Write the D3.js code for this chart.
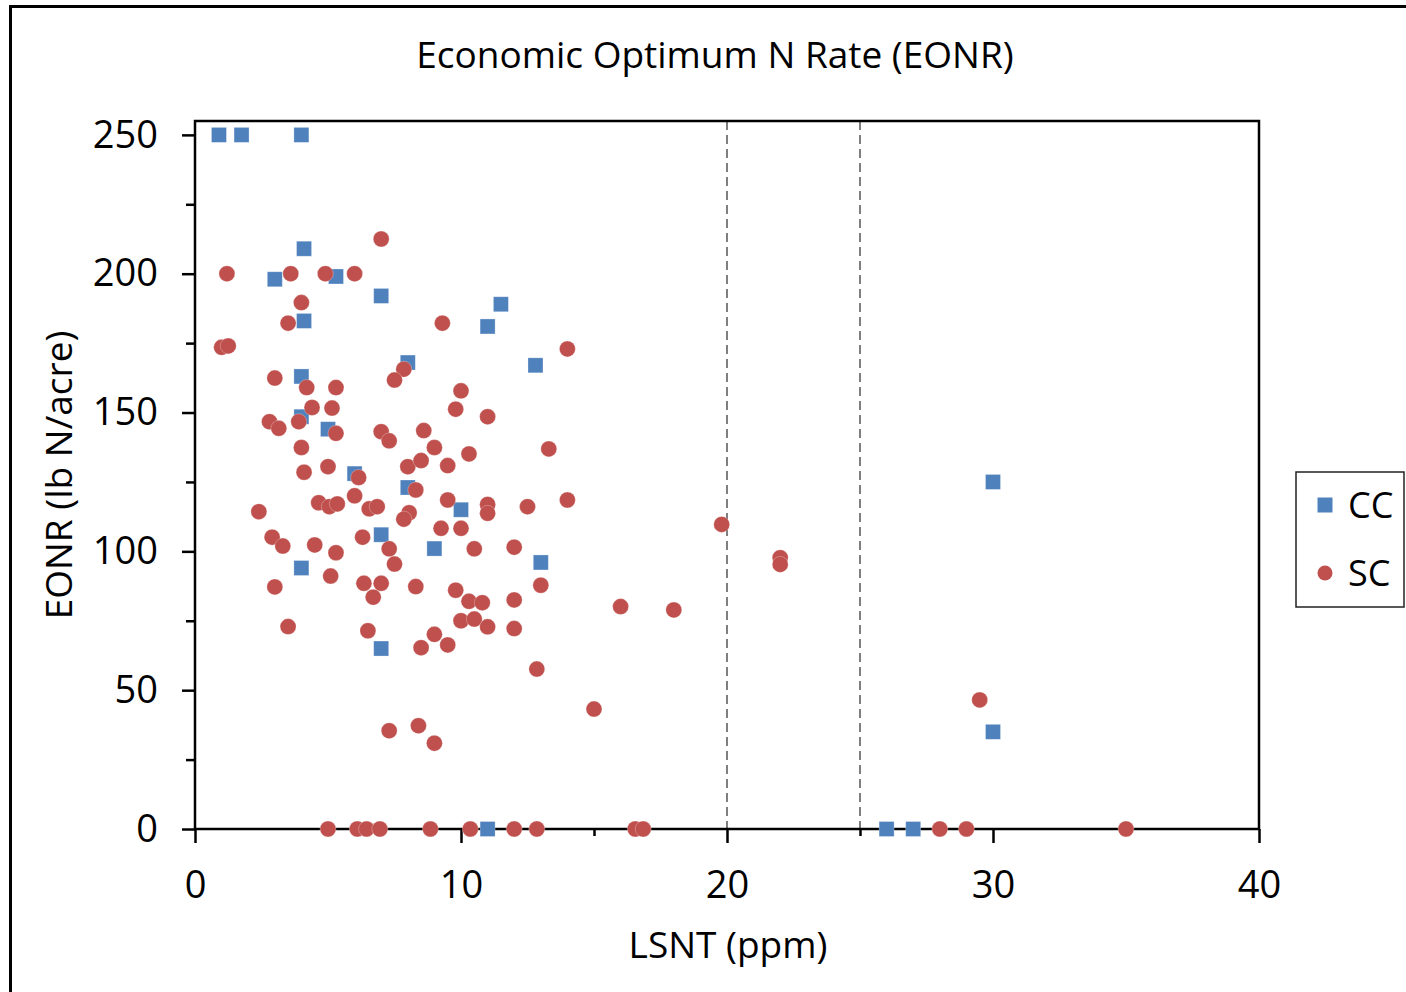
<!DOCTYPE html>
<html>
<head>
<meta charset="utf-8">
<script src="https://cdn.jsdelivr.net/npm/d3@7/dist/d3.min.js"></script>
<style>
  html, body { margin: 0; padding: 0; background: #fff; }
  svg { display: block; }
  text { font-family: "Open Sans", "Noto Sans", sans-serif; fill: #000; }
</style>
</head>
<body>
<svg id="chart" width="1406" height="992"></svg>
<script>
// Axis ticks
const xTicks = [0, 10, 20, 30, 40];
const xMinorTicks = [5, 15, 25, 35];
const yTicks = [0, 50, 100, 150, 200, 250];
const yMinorTicks = [25, 75, 125, 175, 225];

// Reference LSNT thresholds (ppm)
const thresholds = [20, 25];

// Series names
const seriesNames = ["CC", "SC"];

// CC: LSNT (ppm) and EONR (lb N/acre)
const ccX = [0.9, 1.75, 4.0, 4.1, 3.0, 5.3, 7.0, 4.1, 11.5, 11.0, 8.0, 12.8, 4.0, 4.0,
             5.0, 6.0, 8.0, 10.0, 7.0, 9.0, 13.0, 4.0, 7.0, 11.0, 30.0, 30.0, 26.0, 27.0];
const ccY = [250, 250, 250, 209, 198, 199, 192, 183, 189, 181, 168, 167, 163, 148.5,
             144, 128, 123, 115, 106, 101, 96, 94, 65, 0, 125, 35, 0, 0];

// SC: LSNT (ppm) and EONR (lb N/acre)
const scX = [1.2, 3.6, 4.9, 6.0, 7.0, 4.0, 3.5, 9.3, 1.0, 1.25,
             7.85, 7.5, 10.0, 3.0, 4.2, 5.3, 4.4, 5.15, 9.8, 11.0,
             2.8, 3.15, 3.9, 5.3, 7.0, 7.3, 8.6, 4.0, 9.0, 10.3,
             13.3, 14.0, 5.0, 4.1, 8.0, 8.5, 9.5, 6.15, 8.3, 6.0,
             9.5, 4.65, 5.05, 5.35, 6.55, 6.85, 8.05, 7.85, 11.0, 11.0,
             12.5, 14.0, 2.4, 2.9, 3.3, 4.5, 5.3, 6.3, 7.3, 7.5,
             9.25, 10.0, 10.5, 12.0, 19.8, 22.0, 22.0, 3.0, 5.1, 6.35,
             7.0, 8.3, 9.8, 13.0, 6.7, 10.3, 10.8, 12.0, 16.0, 18.0,
             3.5, 6.5, 10.0, 10.5, 11.0, 12.0, 8.5, 9.0, 9.5, 12.85,
             15.0, 7.3, 8.4, 9.0, 29.5,
             5.0, 6.1, 6.45, 6.95, 8.85, 10.35, 12.0, 12.85, 16.55, 16.85, 28.0, 29.0, 35.0];
const scY = [200, 200, 200, 200, 212.5, 189.6, 182.2, 182.2, 173.5, 174,
             165.6, 161.7, 157.8, 162.4, 159, 159, 151.8, 151.6, 151.2, 148.5,
             146.7, 144.3, 146.7, 142.5, 143.1, 139.8, 143.5, 137.4, 137.4, 135.1,
             136.9, 172.9, 130.5, 128.5, 130.5, 132.7, 130.9, 126.6, 122.1, 120,
             118.5, 117.5, 116.1, 117.1, 115.3, 116.1, 113.9, 111.6, 116.9, 113.7,
             116.1, 118.5, 114.3, 105.1, 101.9, 102.3, 99.5, 105.1, 100.9, 95.4,
             108.3, 108.3, 100.9, 101.5, 109.7, 97.7, 95.3, 87.2, 91.1, 88.5,
             88.5, 87.3, 86.0, 87.8, 83.5, 82.0, 81.5, 82.5, 80.1, 78.9,
             72.9, 71.4, 75.0, 75.6, 72.8, 72.2, 65.3, 70.1, 66.3, 57.6,
             43.2, 35.4, 37.2, 30.9, 46.5,
             0, 0, 0, 0, 0, 0, 0, 0, 0, 0, 0, 0, 0];

const colors = { CC: "#4F81BD", SC: "#C0504D" };

const svg = d3.select("#chart");

// Outer chart border
svg.append("rect")
  .attr("x", 10.5).attr("y", 6.5)
  .attr("width", 1420).attr("height", 1000)
  .attr("fill", "none").attr("stroke", "#000").attr("stroke-width", 3);

const plot = { left: 195, right: 1259, top: 121, bottom: 829 };

const x = d3.scaleLinear().domain([0, 40]).range([plot.left, plot.right]);
const y = d3.scaleLinear().domain([0, 255]).range([plot.bottom, plot.top]);

// Title
svg.append("text")
  .attr("x", 715).attr("y", 68)
  .attr("text-anchor", "middle")
  .attr("font-size", 37)
  .text("Economic Optimum N Rate (EONR)");

// Threshold dashed lines
svg.append("g").selectAll("line")
  .data(thresholds)
  .join("line")
  .attr("x1", d => x(d)).attr("x2", d => x(d))
  .attr("y1", plot.top).attr("y2", plot.bottom)
  .attr("stroke", "#7f7f7f").attr("stroke-width", 2)
  .attr("stroke-dasharray", "9,5");

// Plot frame
svg.append("rect")
  .attr("x", plot.left).attr("y", plot.top)
  .attr("width", plot.right - plot.left).attr("height", plot.bottom - plot.top)
  .attr("fill", "none").attr("stroke", "#000").attr("stroke-width", 2.5);

// Y axis: major ticks with labels, minor ticks without
const yAxis = svg.append("g")
  .attr("transform", `translate(${plot.left},0)`)
  .call(d3.axisLeft(y).tickValues(yTicks).tickSize(13).tickPadding(24).tickFormat(d3.format("d")));
yAxis.select(".domain").remove();
yAxis.selectAll(".tick line").attr("stroke", "#000").attr("stroke-width", 2.5);
yAxis.selectAll(".tick text")
  .attr("font-size", 38)
  .attr("font-family", "'Open Sans', 'Noto Sans', sans-serif")
  .attr("fill", "#000");

const yMinor = svg.append("g")
  .attr("transform", `translate(${plot.left},0)`)
  .call(d3.axisLeft(y).tickValues(yMinorTicks).tickSize(9).tickFormat(""));
yMinor.select(".domain").remove();
yMinor.selectAll(".tick line").attr("stroke", "#000").attr("stroke-width", 2.5);

// X axis: major ticks with labels, minor ticks without
const xAxis = svg.append("g")
  .attr("transform", `translate(0,${plot.bottom})`)
  .call(d3.axisBottom(x).tickValues(xTicks).tickSize(14).tickPadding(28).tickFormat(d3.format("d")));
xAxis.select(".domain").remove();
xAxis.selectAll(".tick line").attr("stroke", "#000").attr("stroke-width", 2.5);
xAxis.selectAll(".tick text")
  .attr("font-size", 38)
  .attr("font-family", "'Open Sans', 'Noto Sans', sans-serif")
  .attr("fill", "#000");

const xMinor = svg.append("g")
  .attr("transform", `translate(0,${plot.bottom})`)
  .call(d3.axisBottom(x).tickValues(xMinorTicks).tickSize(7).tickFormat(""));
xMinor.select(".domain").remove();
xMinor.selectAll(".tick line").attr("stroke", "#000").attr("stroke-width", 2.5);

// Axis titles
svg.append("text")
  .attr("x", 728).attr("y", 958)
  .attr("text-anchor", "middle")
  .attr("font-size", 37)
  .text("LSNT (ppm)");

svg.append("text")
  .attr("transform", "translate(72,475) rotate(-90)")
  .attr("text-anchor", "middle")
  .attr("font-size", 37)
  .text("EONR (lb N/acre)");

// Markers
const ccData = ccX.map((v, i) => ({ x: v, y: ccY[i] }));
const scData = scX.map((v, i) => ({ x: v, y: scY[i] }));
const half = 7.5;

svg.append("g").selectAll("rect")
  .data(ccData)
  .join("rect")
  .attr("x", d => x(d.x) - half).attr("y", d => y(d.y) - half)
  .attr("width", half * 2).attr("height", half * 2)
  .attr("fill", colors.CC)
  .attr("stroke", "#ffffff").attr("stroke-opacity", 0.35).attr("stroke-width", 0.8);

svg.append("g").selectAll("circle")
  .data(scData)
  .join("circle")
  .attr("cx", d => x(d.x)).attr("cy", d => y(d.y))
  .attr("r", 8)
  .attr("fill", colors.SC)
  .attr("stroke", "#ffffff").attr("stroke-opacity", 0.35).attr("stroke-width", 0.8);

// Legend
const legend = svg.append("g");
legend.append("rect")
  .attr("x", 1296).attr("y", 472)
  .attr("width", 108).attr("height", 135)
  .attr("fill", "#fff").attr("stroke", "#222").attr("stroke-width", 1.5);

const legendRows = legend.selectAll("g.row")
  .data(seriesNames)
  .join("g")
  .attr("class", "row")
  .attr("transform", (d, i) => `translate(1325,${505 + i * 68})`);

legendRows.filter(d => d === "CC").append("rect")
  .attr("x", -7.5).attr("y", -7.5).attr("width", 15).attr("height", 15)
  .attr("fill", colors.CC);
legendRows.filter(d => d === "SC").append("circle")
  .attr("r", 7.5)
  .attr("fill", colors.SC);
legendRows.append("text")
  .attr("x", 23).attr("y", 13)
  .attr("font-size", 36)
  .text(d => d);
</script>
</body>
</html>
